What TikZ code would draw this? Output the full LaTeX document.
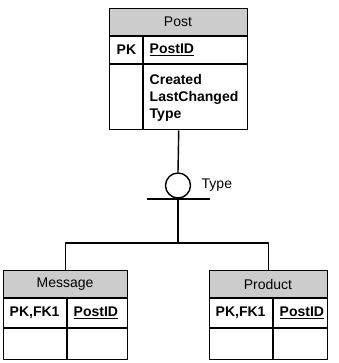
\documentclass[tikz,border=0pt]{standalone}
\usepackage{fontspec}
\setmainfont{Liberation Sans}
\usetikzlibrary{positioning}
\tikzset{
  entity/.style={draw,rectangle,anchor=north west,inner sep=0pt},
  headfill/.style={fill=gray!40},
  field/.style={anchor=west,inner sep=0pt,font=\fontsize{14}{17}\selectfont\bfseries},
  title/.style={inner sep=0pt,font=\fontsize{14}{16}\selectfont},
}
\begin{document}
\begin{tikzpicture}[x=1pt,y=-1pt,line width=1.4pt,line join=round]
\useasboundingbox (0,0) rectangle (338,363);
% Post
\fill[headfill] (109,8) rectangle (247,36);
\node[entity,minimum width=138,minimum height=121] (post) at (109,8) {};
\draw (109,36) -- (247,36);
\draw (109,64) -- (247,64);
\draw (143,36) -- (143,129);
\node[title] (posttitle) at (178,22) {Post};
\node[field] (postpk) at (116,50) {PK};
\node[field] (postid) at (149,50) {\underline{PostID}};
\node[field,align=left,anchor=north west] (postattr) at (149,74) {Created\\LastChanged\\Type};
% subtype symbol
\node[draw,circle,minimum size=25,inner sep=0pt] (disc) at (178,185.5) {};
\node[title,anchor=west] (disclbl) at (201,185) {Type};
\coordinate (barl) at (147,199);
\coordinate (barr) at (210,199);
\draw (barl) -- (barr);
\coordinate (join) at (178,243);
% Message
\fill[headfill] (3,270) rectangle (127,298);
\node[entity,minimum width=124,minimum height=89] (message) at (3,270) {};
\draw (3,298) -- (127,298);
\draw (3,328) -- (127,328);
\draw (67,298) -- (67,359);
\node[title] (msgtitle) at (65,284) {Message};
\node[field] (msgpk) at (9,313) {PK,FK1};
\node[field] (msgid) at (73,313) {\underline{PostID}};
% Product
\fill[headfill] (209,270) rectangle (327,298);
\node[entity,minimum width=118,minimum height=89] (product) at (209,270) {};
\draw (209,298) -- (327,298);
\draw (209,328) -- (327,328);
\draw (273,298) -- (273,359);
\node[title] (prodtitle) at (268,284) {Product};
\node[field] (prodpk) at (215,313) {PK,FK1};
\node[field] (prodid) at (279,313) {\underline{PostID}};
% connectors
\draw (post.south) -- (disc.north);
\draw (disc.south) -- (join);
\draw (message.north) |- (join) -| (product.north);
\end{tikzpicture}
\end{document}
